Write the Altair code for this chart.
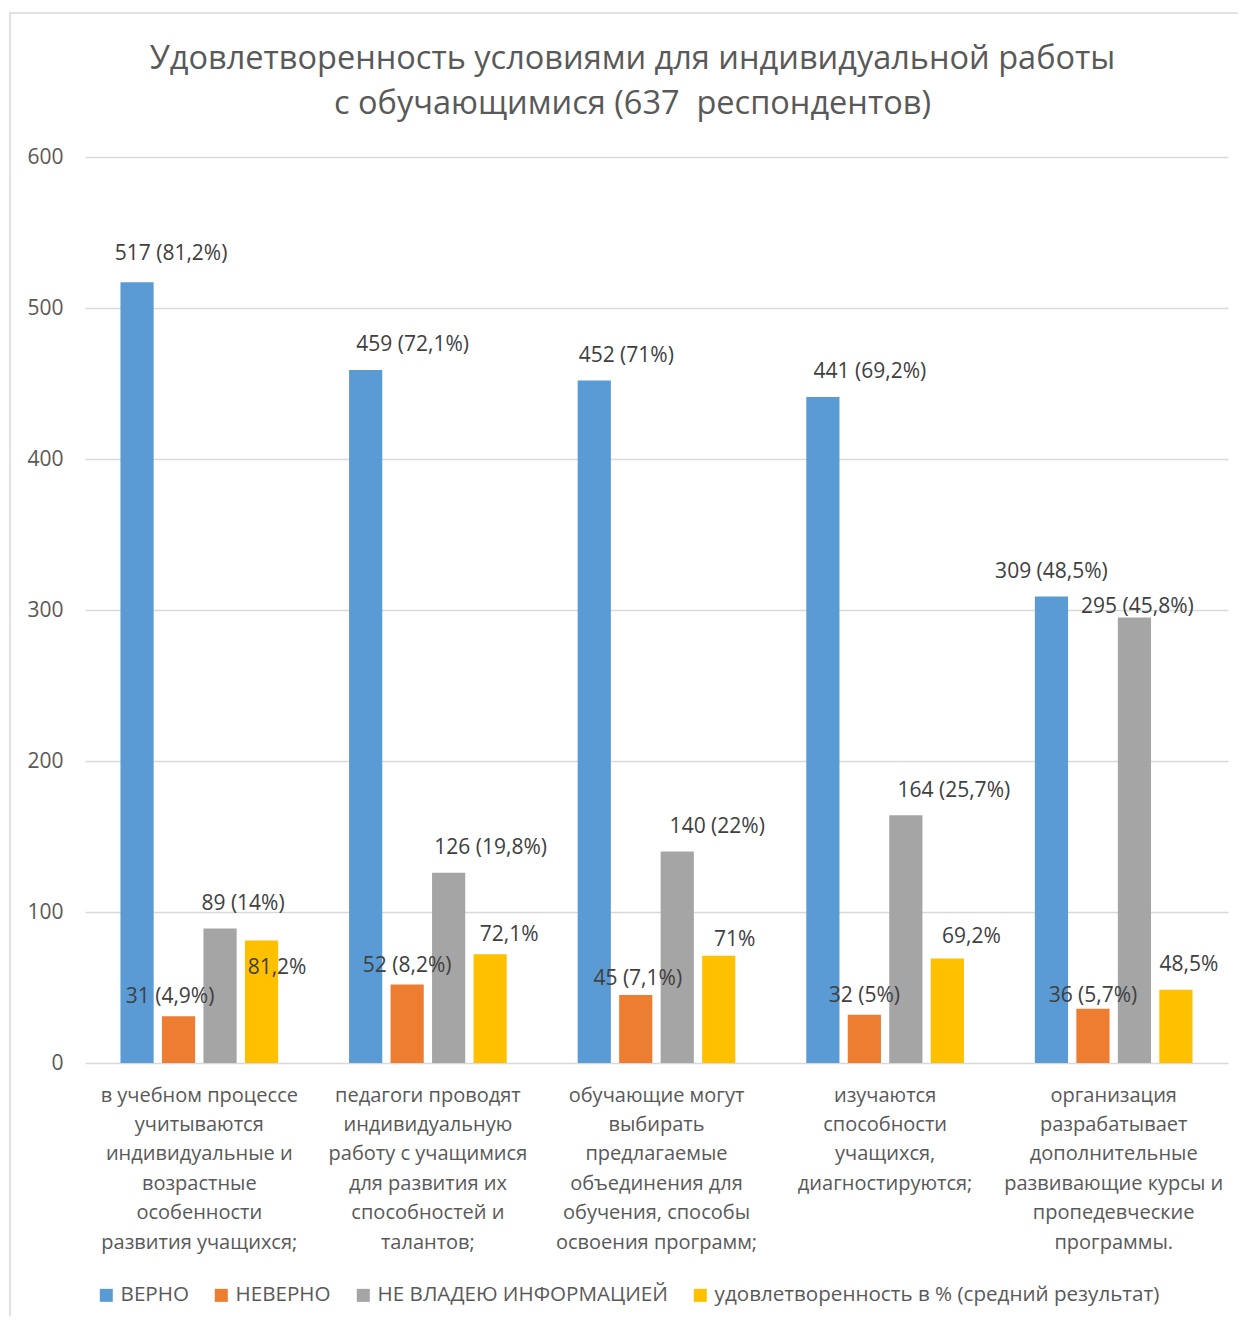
import altair as alt
import pandas as pd

categories = [
    "в учебном процессе\nучитываются\nиндивидуальные и\nвозрастные\nособенности\nразвития учащихся;",
    "педагоги проводят\nиндивидуальную\nработу с учащимися\nдля развития их\nспособностей и\nталантов;",
    "обучающие могут\nвыбирать\nпредлагаемые\nобъединения для\nобучения, способы\nосвоения программ;",
    "изучаются\nспособности\nучащихся,\nдиагностируются;",
    "организация\nразрабатывает\nдополнительные\nразвивающие курсы и\nпропедевческие\nпрограммы.",
]
series = ["ВЕРНО", "НЕВЕРНО", "НЕ ВЛАДЕЮ ИНФОРМАЦИЕЙ",
          "удовлетворенность в % (средний результат)"]
colors = ["#5B9BD5", "#ED7D31", "#A5A5A5", "#FFC000"]

verno = [517, 459, 452, 441, 309]
verno_pct = [81.2, 72.1, 71, 69.2, 48.5]
neverno = [31, 52, 45, 32, 36]
neverno_pct = [4.9, 8.2, 7.1, 5, 5.7]
ne_vladeyu = [89, 126, 140, 164, 295]
ne_vladeyu_pct = [14, 19.8, 22, 25.7, 45.8]
udovl = [81.2, 72.1, 71, 69.2, 48.5]

# label placement nudges (pixels) relative to bar top, as in the original
nudge_dx = [[34, 47, 32, 47, 0], [-8.5, 0, 2, 0, 0],
            [23, 42, 40, 48, 3], [15.5, 19, 16, 24, 13]]
nudge_dy = [[-28, -25, -24.5, -25, -24], [-19, -18.5, -16, -19, -13],
            [-24.6, -25, -25, -24.4, -10.5], [27.6, -19, -16, -21.5, -25]]


def fmt(v):
    s = f"{v:g}"
    return s.replace(".", ",")


rows = []
vals = [verno, neverno, ne_vladeyu, udovl]
pcts = [verno_pct, neverno_pct, ne_vladeyu_pct, None]
for si, s in enumerate(series):
    for ci, c in enumerate(categories):
        v = vals[si][ci]
        if pcts[si] is None:
            lab = f"{fmt(v)}%"
        else:
            lab = f"{v} ({fmt(pcts[si][ci])}%)"
        rows.append({"cat": c, "series": s, "value": v, "label": lab,
                     "dx": nudge_dx[si][ci], "dy": nudge_dy[si][ci]})
df = pd.DataFrame(rows)

FONT = "Open Sans"
TXT = "#595959"

x = alt.X("cat:N", sort=categories, title=None,
          scale=alt.Scale(paddingInner=0.274, paddingOuter=0.137),
          axis=alt.Axis(labelExpr="split(datum.label, '\\n')", labelAngle=0,
                        labelFont=FONT, labelFontSize=20, labelColor=TXT,
                        labelLineHeight=29.4, labelPadding=22, labelLimit=400,
                        ticks=False, domain=False, grid=False))
xo = alt.XOffset("series:N", sort=series,
                 scale=alt.Scale(paddingInner=0.2, paddingOuter=0.1))
y = alt.Y("value:Q", title=None,
          scale=alt.Scale(domain=[0, 600], nice=False),
          axis=alt.Axis(values=[0, 100, 200, 300, 400, 500, 600],
                        labelFont=FONT, labelFontSize=21, labelColor=TXT,
                        labelPadding=22, ticks=False, domain=False,
                        gridColor="#d9d9d9", gridWidth=1.5))

base = alt.Chart(df)
bars = base.mark_bar().encode(
    x=x, xOffset=xo, y=y,
    color=alt.Color("series:N", sort=series,
                    scale=alt.Scale(domain=series, range=colors),
                    legend=alt.Legend(title=None, orient="none",
                                      direction="horizontal", columns=4,
                                      legendX=11, legendY=1128,
                                      symbolType="square", symbolSize=169,
                                      symbolStrokeWidth=0,
                                      labelFont=FONT, labelFontSize=20.6,
                                      labelColor=TXT, labelOffset=4,
                                      columnPadding=22, labelLimit=600)),
)
texts = base.mark_text(font=FONT, fontSize=21, color="#404040",
                       baseline="middle", align="center",
                       dx=alt.expr("datum.dx"), dy=alt.expr("datum.dy")).encode(
    x=x, xOffset=xo, y=y, text="label:N")

border = alt.Chart(alt.Data(values=[{}])).mark_rect(
    filled=False, stroke="#d9d9d9", strokeWidth=1.5).encode(
    x=alt.value(-75), x2=alt.value(1300), y=alt.value(-144), y2=alt.value(1300))

chart = alt.layer(border, bars, texts).properties(
    width=1143, height=906,
    autosize=alt.AutoSizeParams(type="none"),
    padding={"left": 77, "top": 149, "right": 10, "bottom": 253},
    title=alt.TitleParams(
        text=["Удовлетворенность условиями для индивидуальной работы",
              "с обучающимися (637\u00a0 респондентов)"],
        font=FONT, fontSize=32.5, fontWeight="normal", color=TXT,
        lineHeight=45, anchor="middle", dx=-24, offset=-108),
).configure_view(stroke=None)

chart.save("out.html", embed_options={"renderer": "svg", "actions": False})
